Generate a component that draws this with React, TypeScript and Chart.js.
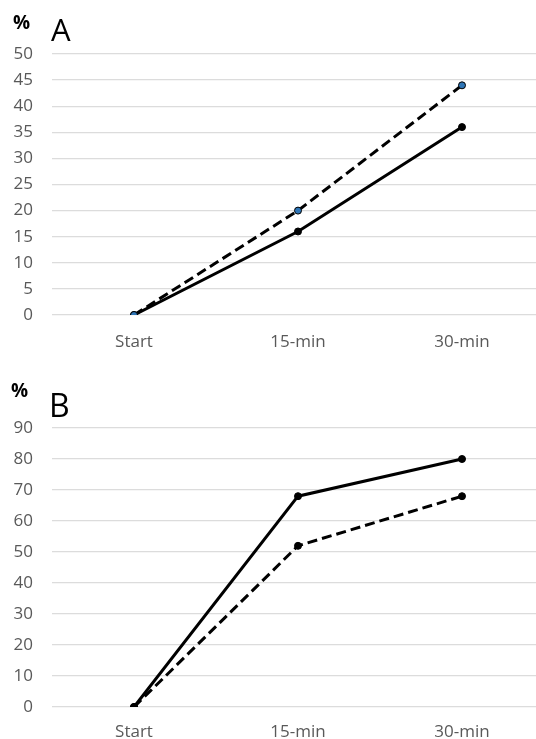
import React, { useEffect, useRef } from "react";
import { Chart, registerables } from "chart.js";

Chart.register(...registerables);

const categories = ["Start", "15-min", "30-min"];
const seriesASolid = [0, 16, 36];
const seriesADashed = [0, 20, 44];
const seriesBSolid = [0, 68, 80];
const seriesBDashed = [0, 52, 68];
const axisA = { min: 0, max: 50, step: 5 };
const axisB = { min: 0, max: 90, step: 10 };

const FONT = "'Open Sans', 'DejaVu Sans', sans-serif";

function makeConfig(
  solid: number[],
  dashed: number[],
  dashedPointColor: string,
  axis: { min: number; max: number; step: number },
  padTop: number,
  xAxisHeight: number,
  xLabelPad: number
): any {
  return {
    type: "line",
    data: {
      labels: categories,
      datasets: [
        {
          data: dashed,
          borderColor: "#000",
          borderWidth: 3,
          borderDash: [10, 5],
          pointRadius: 3.5,
          pointBackgroundColor: dashedPointColor,
          pointBorderColor: "#000",
          pointBorderWidth: 1,
          tension: 0,
        },
        {
          data: solid,
          borderColor: "#000",
          borderWidth: 3,
          pointRadius: 3.5,
          pointBackgroundColor: "#000",
          pointBorderColor: "#000",
          pointBorderWidth: 1,
          tension: 0,
        },
      ],
    },
    options: {
      responsive: false,
      animation: false,
      events: [],
      layout: { autoPadding: false, padding: { top: padTop, left: 0, right: 0, bottom: 0 } },
      plugins: { legend: { display: false }, tooltip: { enabled: false } },
      scales: {
        x: {
          type: "category",
          offset: true,
          grid: { display: false, drawTicks: false },
          border: { display: false },
          ticks: {
            padding: xLabelPad,
            color: "#595959",
            font: { family: FONT, size: 17 },
            maxRotation: 0,
          },
          afterFit: (s: any) => {
            s.height = xAxisHeight;
          },
        },
        y: {
          min: axis.min,
          max: axis.max,
          grid: { color: "#dcdcdc", lineWidth: 1.3, drawTicks: false },
          border: { display: false },
          ticks: {
            stepSize: axis.step,
            padding: 19,
            color: "#595959",
            font: { family: FONT, size: 17 },
          },
          afterFit: (s: any) => {
            s.width = 52;
          },
        },
      },
    },
  };
}

function ChartCanvas(props: { config: any; width: number; height: number; top: number }) {
  const ref = useRef<HTMLCanvasElement | null>(null);
  useEffect(() => {
    if (!ref.current) return;
    const c = new Chart(ref.current, props.config);
    return () => c.destroy();
  }, []);
  return (
    <canvas
      ref={ref}
      width={props.width}
      height={props.height}
      style={{
        position: "absolute",
        left: 0,
        top: props.top,
        width: props.width,
        height: props.height,
        display: "block",
      }}
    />
  );
}

const textBase: React.CSSProperties = {
  position: "absolute",
  fontFamily: FONT,
  lineHeight: 1,
  color: "#000",
  whiteSpace: "nowrap",
};

export default function App() {
  const cfgA = makeConfig(seriesASolid, seriesADashed, "#2e75b6", axisA, 54, 55, 17);
  const cfgB = makeConfig(seriesBSolid, seriesBDashed, "#000", axisB, 58, 32, 15);
  return (
    <div
      style={{
        position: "absolute",
        left: 0,
        top: 0,
        width: 536,
        height: 739,
        overflow: "hidden",
        background: "#fff",
      }}
    >
      <ChartCanvas config={cfgA} width={544} height={370} top={0} />
      <ChartCanvas config={cfgB} width={544} height={369} top={370} />
      <div style={{ ...textBase, left: 13, top: 13, fontSize: 19, fontWeight: 700 }}>%</div>
      <div style={{ ...textBase, left: 51, top: 14, fontSize: 31 }}>A</div>
      <div style={{ ...textBase, left: 11, top: 381, fontSize: 19, fontWeight: 700 }}>%</div>
      <div style={{ ...textBase, left: 49, top: 389, fontSize: 32 }}>B</div>
    </div>
  );
}
